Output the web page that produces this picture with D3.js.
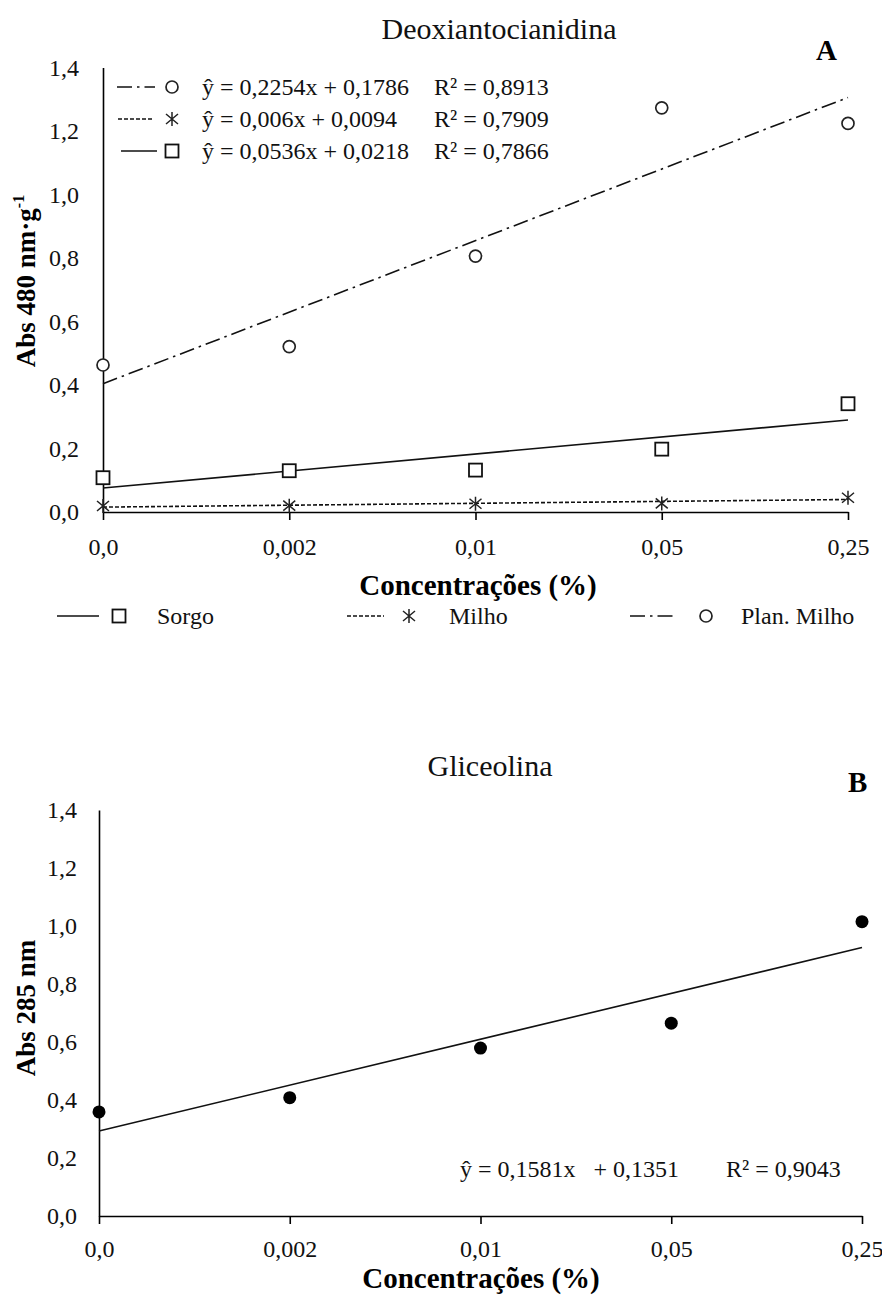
<!DOCTYPE html>
<html><head><meta charset="utf-8">
<script src="https://cdn.jsdelivr.net/npm/d3@7"></script>
<style>
html,body{margin:0;padding:0;background:#fff;}
svg{display:block;font-family:"Liberation Serif","Times New Roman",serif;}
</style></head>
<body><svg id="c" width="882" height="1295"></svg>
<script>
// ---------- data ----------
const categories = ["0,0", "0,002", "0,01", "0,05", "0,25"];
const yTicks = [0, 0.2, 0.4, 0.6, 0.8, 1.0, 1.2, 1.4];

// Panel A – Deoxiantocianidina
const sorgo     = [0.108, 0.130, 0.132, 0.198, 0.341];
const milho     = [0.019, 0.020, 0.026, 0.027, 0.045];
const planMilho = [0.463, 0.521, 0.806, 1.273, 1.224];
const eqA = [
  {name: "Plan. Milho", slope: 0.2254, intercept: 0.1786, eq: "ŷ = 0,2254x + 0,1786", r2: "R² = 0,8913"},
  {name: "Milho",       slope: 0.006,  intercept: 0.0094, eq: "ŷ = 0,006x + 0,0094",  r2: "R² = 0,7909"},
  {name: "Sorgo",       slope: 0.0536, intercept: 0.0218, eq: "ŷ = 0,0536x + 0,0218", r2: "R² = 0,7866"}
];

// Panel B – Gliceolina
const gliceolina = [0.359, 0.408, 0.579, 0.665, 1.015];
const eqB = {slope: 0.1581, intercept: 0.1351, eq: "ŷ = 0,1581x   + 0,1351", r2: "R² = 0,9043"};

// ---------- helpers ----------
const svg = d3.select("#c");
const loc = d3.formatLocale({decimal: ",", thousands: ".", grouping: [3], currency: ["", ""]});
const fmt = loc.format(".1f");

const styles = {
  "Sorgo":       {dash: null,          marker: "square"},
  "Milho":       {dash: "4,2",         marker: "asterisk"},
  "Plan. Milho": {dash: "15,5,2.5,5",  marker: "circle"}
};

function drawMarker(g, type, x, y) {
  if (type === "circle") {
    g.append("circle").attr("cx", x).attr("cy", y).attr("r", 6)
      .attr("fill", "#fff").attr("stroke", "#222").attr("stroke-width", 1.7);
  } else if (type === "square") {
    g.append("rect").attr("x", x - 6.5).attr("y", y - 6.5).attr("width", 13).attr("height", 13)
      .attr("fill", "#fff").attr("stroke", "#111").attr("stroke-width", 1.8);
  } else if (type === "asterisk") {
    g.append("path").attr("d", `M${x},${y-7}V${y+7}M${x-6},${y-5}L${x+6},${y+5}M${x-6},${y+5}L${x+6},${y-5}`)
      .attr("stroke", "#222").attr("stroke-width", 1.5).attr("fill", "none");
  } else if (type === "dot") {
    g.append("circle").attr("cx", x).attr("cy", y).attr("r", 6.5).attr("fill", "#000");
  }
}

function panel(opt) {
  const g = svg.append("g");
  const x = d3.scalePoint().domain(categories).range(opt.xRange);
  const y = d3.scaleLinear().domain([0, 1.4]).range(opt.yRange);

  // x axis
  const xa = g.append("g").attr("transform", `translate(0,${opt.yRange[0]})`)
    .call(d3.axisBottom(x).tickSize(8).tickSizeOuter(0).tickPadding(opt.xPad));
  xa.select(".domain").attr("stroke", "#000").attr("stroke-width", 1.6);
  xa.selectAll(".tick line").attr("stroke", "#000").attr("stroke-width", 1.6);
  xa.selectAll(".tick text").attr("font-size", 24).attr("font-family", "Liberation Serif").attr("fill", "#111");

  // y axis
  const ya = g.append("g").attr("transform", `translate(${opt.xRange[0]},0)`)
    .call(d3.axisLeft(y).tickValues(yTicks).tickFormat(fmt).tickSize(0).tickSizeOuter(0).tickPadding(opt.yPad));
  ya.select(".domain").attr("stroke", "#000").attr("stroke-width", 1.6);
  ya.selectAll(".tick text").attr("font-size", 24).attr("font-family", "Liberation Serif").attr("fill", "#111");

  // titles
  g.append("text").attr("x", opt.titleX).attr("y", opt.titleY).attr("text-anchor", "middle")
    .attr("font-size", 30).attr("fill", "#111").text(opt.title);
  g.append("text").attr("x", opt.letterX).attr("y", opt.letterY)
    .attr("font-size", 29).attr("font-weight", "bold").attr("fill", "#000").text(opt.letter);
  g.append("text").attr("x", opt.xTitleX).attr("y", opt.xTitleY).attr("text-anchor", "middle")
    .attr("font-size", 29).attr("font-weight", "bold").attr("fill", "#000").text("Concentrações (%)");
  const yt = g.append("text").attr("transform", `translate(${opt.yTitleX},${opt.yTitleY}) rotate(-90)`)
    .attr("text-anchor", "middle").attr("font-size", 27).attr("font-weight", "bold").attr("fill", "#000");
  yt.append("tspan").text(opt.yTitle);
  if (opt.ySup) yt.append("tspan").attr("font-size", 16).attr("dy", -11).text(opt.ySup);

  return {g, x, y};
}

// ---------- Panel A ----------
const A = panel({
  xRange: [103, 848], yRange: [512, 67.5], xPad: 18, yPad: 24,
  title: "Deoxiantocianidina", titleX: 499, titleY: 39,
  letter: "A", letterX: 816, letterY: 60,
  xTitleX: 478, xTitleY: 595,
  yTitle: "Abs 480 nm·g", ySup: "-1", yTitleX: 35, yTitleY: 281
});

const seriesA = [
  {name: "Sorgo", values: sorgo},
  {name: "Milho", values: milho},
  {name: "Plan. Milho", values: planMilho}
];
const lastIdx = categories.length - 1;
eqA.forEach(e => {
  const st = styles[e.name];
  A.g.append("line")
    .attr("x1", A.x(categories[0])).attr("y1", A.y(e.slope * 1 + e.intercept))
    .attr("x2", A.x(categories[lastIdx])).attr("y2", A.y(e.slope * (lastIdx + 1) + e.intercept))
    .attr("stroke", "#111").attr("stroke-width", 1.6)
    .attr("stroke-dasharray", st.dash);
});
seriesA.forEach(s => {
  s.values.forEach((v, i) => drawMarker(A.g, styles[s.name].marker, A.x(categories[i]), A.y(v)));
});

// equation legend (top)
const eqRowsY = [87, 119, 151];
const eqLine = [[117, 155], [118, 152], [121, 157]];
eqA.forEach((e, i) => {
  const st = styles[e.name];
  const yy = eqRowsY[i];
  A.g.append("line").attr("x1", eqLine[i][0]).attr("x2", eqLine[i][1]).attr("y1", yy).attr("y2", yy)
    .attr("stroke", "#111").attr("stroke-width", 1.6).attr("stroke-dasharray", st.dash);
  drawMarker(A.g, st.marker, 172, yy);
  A.g.append("text").attr("x", 202).attr("y", yy + 8).attr("font-size", 24).attr("fill", "#111").text(e.eq);
  A.g.append("text").attr("x", 434).attr("y", yy + 8).attr("font-size", 24).attr("fill", "#111").text(e.r2);
});

// bottom legend
const legItems = [
  {name: "Sorgo", line: [57, 99], mx: 119, tx: 157},
  {name: "Milho", line: [347, 384], mx: 409, tx: 449},
  {name: "Plan. Milho", line: [630, 675], mx: 706, tx: 741}
];
const legY = 616;
legItems.forEach(l => {
  const st = styles[l.name];
  A.g.append("line").attr("x1", l.line[0]).attr("x2", l.line[1]).attr("y1", legY).attr("y2", legY)
    .attr("stroke", "#111").attr("stroke-width", 1.6).attr("stroke-dasharray", st.dash);
  drawMarker(A.g, st.marker, l.mx, legY);
  A.g.append("text").attr("x", l.tx).attr("y", legY + 8).attr("font-size", 24).attr("fill", "#111").text(l.name);
});

// ---------- Panel B ----------
const B = panel({
  xRange: [99, 862], yRange: [1216, 810], xPad: 16, yPad: 22,
  title: "Gliceolina", titleX: 490, titleY: 776,
  letter: "B", letterX: 848, letterY: 792,
  xTitleX: 481, xTitleY: 1288,
  yTitle: "Abs 285 nm", ySup: null, yTitleX: 35, yTitleY: 1008
});
B.g.append("line")
  .attr("x1", B.x(categories[0])).attr("y1", B.y(eqB.slope * 1 + eqB.intercept))
  .attr("x2", B.x(categories[lastIdx])).attr("y2", B.y(eqB.slope * (lastIdx + 1) + eqB.intercept))
  .attr("stroke", "#111").attr("stroke-width", 1.6);
gliceolina.forEach((v, i) => drawMarker(B.g, "dot", B.x(categories[i]), B.y(v)));
B.g.append("text").attr("x", 460).attr("y", 1177).attr("font-size", 24).attr("fill", "#111")
  .style("white-space", "pre").text(eqB.eq);
B.g.append("text").attr("x", 726).attr("y", 1177).attr("font-size", 24).attr("fill", "#111").text(eqB.r2);
</script>
</body></html>
